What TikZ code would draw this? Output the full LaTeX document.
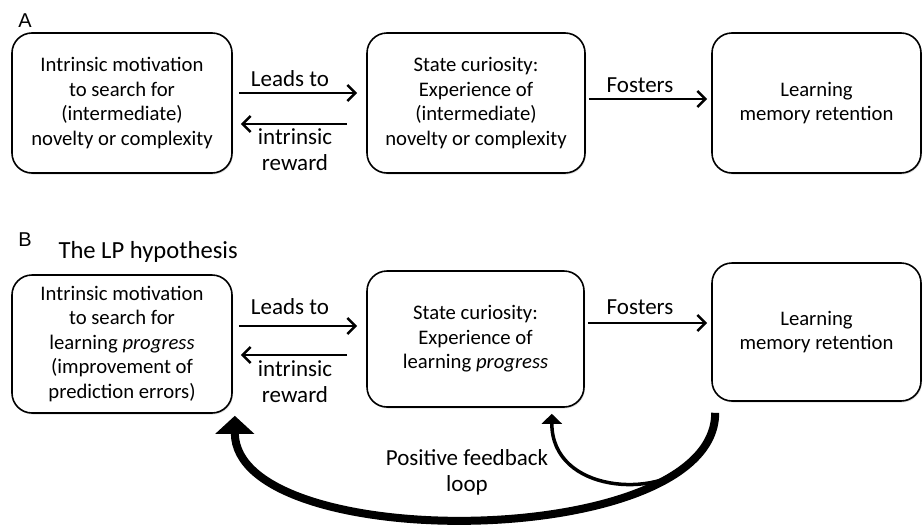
\documentclass[tikz,border=0pt]{standalone}
\usepackage{fontspec}
\setmainfont{Carlito}
\newfontfamily\panelfont{Liberation Sans}
\usetikzlibrary{arrows.meta,shadows}

\tikzset{
  box/.style={draw, line width=1.6pt, rounded corners=20pt, fill=white,
    align=center, font=\fontsize{20.7}{24.5}\selectfont,
    drop shadow={opacity=0.25, shadow xshift=1pt, shadow yshift=-1.5pt}},
  arr/.style={line width=2.6pt, -{Straight Barb[length=8pt,width=16pt]}},
  txt/.style={align=center, font=\fontsize{23}{26}\selectfont},
  panel/.style={font=\panelfont\fontsize{20}{22}\selectfont},
}

\begin{document}
\begin{tikzpicture}[x=1pt,y=-1pt]
  \useasboundingbox (0,0) rectangle (923,525);

  \node[panel] (labA) at (25,21) {A};
  \node[box, minimum width=220pt, minimum height=140pt] (motA) at (122,103)
    {Intrinsic motivation\\to search for\\(intermediate)\\novelty or complexity};
  \node[box, minimum width=218pt, minimum height=140pt] (curA) at (476,103)
    {State curiosity:\\Experience of\\(intermediate)\\novelty or complexity};
  \node[box, minimum width=209pt, minimum height=140pt] (learnA) at (816.5,103)
    {Learning\\memory retention};
  \draw[arr] ([xshift=6pt,yshift=10pt]motA.east) -- ([xshift=-9pt,yshift=10pt]curA.west);
  \draw[arr] ([xshift=-19pt,yshift=-21pt]curA.west) -- ([xshift=8pt,yshift=-21pt]motA.east);
  \draw[arr] ([xshift=3pt,yshift=4pt]curA.east) -- ([xshift=-4pt,yshift=4pt]learnA.west);
  \node[txt] (leadsA) at (290,79) {Leads to};
  \node[txt] (rewardA) at (295,150) {intrinsic\\reward};
  \node[txt] (fostersA) at (640,85) {Fosters};

  \node[panel] (labB) at (25,240) {B};
  \node[anchor=west, font=\fontsize{24.6}{26}\selectfont] (hyp) at (55,252) {The LP hypothesis};
  \node[box, minimum width=220pt, minimum height=138pt] (motB) at (122,344)
    {Intrinsic motivation\\to search for\\learning \textit{progress}\\(improvement of\\prediction errors)};
  \node[box, minimum width=217pt, minimum height=136pt] (curB) at (475.5,339)
    {State curiosity:\\Experience of\\learning \textit{progress}};
  \node[box, minimum width=209pt, minimum height=138pt] (learnB) at (816.5,332)
    {Learning\\memory retention};
  \draw[arr] ([xshift=6pt,yshift=18pt]motB.east) -- ([xshift=-9pt,yshift=13pt]curB.west);
  \draw[arr] ([xshift=-19pt,yshift=-16pt]curB.west) -- ([xshift=8pt,yshift=-11pt]motB.east);
  \draw[arr] ([xshift=3pt,yshift=16pt]curB.east) -- ([xshift=-4pt,yshift=9pt]learnB.west);
  \node[txt] (leadsB) at (290,307) {Leads to};
  \node[txt] (rewardB) at (295,382) {intrinsic\\reward};
  \node[txt] (fostersB) at (640,307) {Fosters};

  \draw[line width=8pt, -{Triangle[length=18pt,width=38pt]}]
    ([xshift=4pt,yshift=-11pt]learnB.south west) .. controls +(0,139) and +(0,139) ..
    coordinate[pos=0.14] (fork) ([xshift=2pt,yshift=-2pt]motB.south east);
  \draw[line width=3.5pt, -{Triangle[length=10pt,width=20pt]}]
    (fork) .. controls +(-30,35) and +(0,80) .. ([xshift=-33pt,yshift=-6pt]curB.south east);
  \node[txt] (loop) at (467,472) {Positive feedback\\loop};
\end{tikzpicture}
\end{document}
